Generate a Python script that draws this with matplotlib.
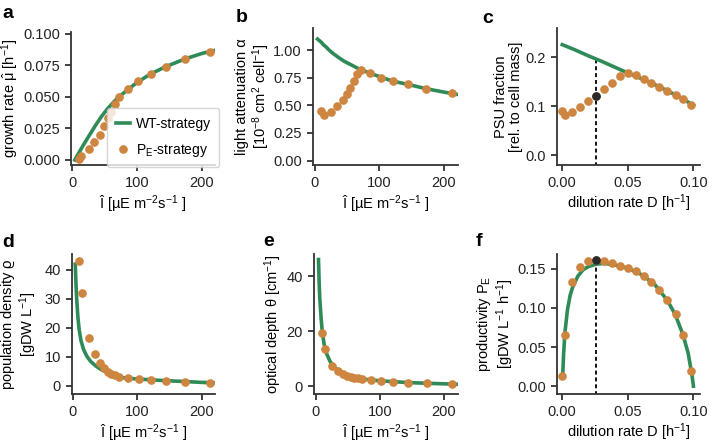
import numpy as np
import matplotlib
matplotlib.use("Agg")
import matplotlib.pyplot as plt


# -------------------------
# Style
# -------------------------
plt.rcParams["font.family"] = ["Liberation Sans", "DejaVu Sans"]
plt.rcParams["mathtext.fontset"] = "custom"
plt.rcParams["mathtext.rm"] = "Liberation Sans"
plt.rcParams["mathtext.it"] = "Liberation Sans:italic"
plt.rcParams["mathtext.bf"] = "Liberation Sans:bold"
plt.rcParams["mathtext.default"] = "regular"
plt.rcParams["font.size"] = 10.5
plt.rcParams["axes.linewidth"] = 1.3
plt.rcParams["axes.edgecolor"] = "#333333"
plt.rcParams["axes.labelpad"] = 2
plt.rcParams["xtick.major.width"] = 1.3
plt.rcParams["ytick.major.width"] = 1.3
plt.rcParams["xtick.major.size"] = 4.5
plt.rcParams["ytick.major.size"] = 4.5
plt.rcParams["xtick.color"] = "#333333"
plt.rcParams["ytick.color"] = "#333333"
plt.rcParams["xtick.labelcolor"] = "#222222"
plt.rcParams["ytick.labelcolor"] = "#222222"

GREEN = "#2e8b57"
ORANGE = "#cd853f"
DARK = "#2b2b2b"


# -------------------------
# Data: WT-strategy curves vs light intensity I
# -------------------------
I_wt = [4, 5, 6, 8, 10, 13, 17, 22, 28, 35, 45, 55, 65, 72, 86, 100, 120, 144, 173, 200, 220]
mu_wt = [0.0, 0.001, 0.002, 0.0038, 0.0055, 0.0082, 0.0118, 0.0160, 0.0210, 0.0268,
         0.0345, 0.0410, 0.0466, 0.0500, 0.0560, 0.0615, 0.0680, 0.0740, 0.0800, 0.0845, 0.0870]
alpha_wt = [1.10, 1.095, 1.09, 1.08, 1.07, 1.05, 1.03, 1.00, 0.97, 0.94, 0.90, 0.87,
            0.84, 0.82, 0.79, 0.76, 0.72, 0.69, 0.65, 0.62, 0.60]
rho_wt = [42, 36, 31, 24, 19.5, 15.5, 12.5, 10.2, 8.4, 7.0, 5.5, 4.5, 3.6, 3.0,
          2.6, 2.4, 2.1, 1.8, 1.5, 1.2, 1.05]
theta_wt = [46, 38, 32, 25, 19.5, 15.0, 11.6, 9.0, 7.0, 5.6, 4.4, 3.6, 2.9, 2.6,
            2.2, 1.9, 1.6, 1.25, 1.0, 0.8, 0.65]

# WT-strategy curves vs dilution rate D
D_wt = [0.0, 0.01, 0.02, 0.03, 0.04, 0.05, 0.06, 0.07, 0.08, 0.09, 0.10]
psu_wt = [0.226, 0.215, 0.203, 0.192, 0.180, 0.168, 0.157, 0.145, 0.132, 0.118, 0.102]

D_prod = [0.0003, 0.001, 0.002, 0.004, 0.006, 0.008, 0.012, 0.016, 0.020, 0.026, 0.032,
          0.040, 0.050, 0.060, 0.070, 0.080, 0.086, 0.092, 0.096, 0.099, 0.100]
prod_wt = [0.012, 0.040, 0.068, 0.098, 0.116, 0.127, 0.141, 0.149, 0.153, 0.156, 0.157,
           0.155, 0.151, 0.143, 0.131, 0.110, 0.092, 0.066, 0.042, 0.013, 0.0]

# -------------------------
# Data: P_E-strategy points
# -------------------------
D_pe = [0.000, 0.0023, 0.0076, 0.0137, 0.0198, 0.026, 0.032, 0.038, 0.044,
        0.050, 0.056, 0.062, 0.068, 0.074, 0.080, 0.0865, 0.092, 0.098]
psu_pe = [0.091, 0.083, 0.088, 0.099, 0.111, 0.122, 0.135, 0.148, 0.161,
          0.169, 0.163, 0.156, 0.148, 0.139, 0.132, 0.123, 0.115, 0.102]
prod_pe = [0.013, 0.065, 0.133, 0.153, 0.160, 0.161, 0.160, 0.158, 0.154,
           0.151, 0.147, 0.141, 0.133, 0.123, 0.110, 0.092, 0.065, 0.020]

# points with I inside the plotted range
I_pe = [10, 14, 25, 34, 43, 49, 54.5, 60, 66, 72, 86, 102, 121, 144, 173, 212]
mu_pe = [0.001, 0.003, 0.0086, 0.0146, 0.0196, 0.0266, 0.033, 0.038, 0.044,
         0.050, 0.056, 0.0627, 0.068, 0.074, 0.080, 0.0856]
alpha_pe = [0.45, 0.41, 0.44, 0.49, 0.55, 0.60, 0.66, 0.72, 0.78,
            0.82, 0.79, 0.75, 0.72, 0.69, 0.65, 0.61]
rho_pe = [43.1, 32.2, 16.5, 10.9, 8.0, 6.1, 4.9, 4.1, 3.6,
          3.0, 2.6, 2.4, 2.2, 1.8, 1.5, 1.1]
theta_pe = [19.3, 13.3, 7.3, 5.3, 4.4, 3.6, 3.3, 3.0, 2.8,
            2.5, 2.3, 1.9, 1.6, 1.2, 1.0, 0.7]

# optimum (max productivity)
D_opt = 0.026
psu_opt = 0.122
psu_wt_opt = 0.196
prod_opt = 0.161

I_LABEL = r"$\hat{\mathrm{I}}$ [µE m$^{-2}$s$^{-1}$ ]"
D_LABEL = r"dilution rate D [h$^{-1}$]"

W, H = 709, 448
fig = plt.figure(figsize=(W / 100, H / 100), dpi=100)


def px_axes(left, top, right, bottom):
    return fig.add_axes([left / W, 1 - bottom / H, (right - left) / W, (bottom - top) / H])


def style(ax):
    for s in ["top", "right"]:
        ax.spines[s].set_visible(False)


ms = 5.2
lw = 2.6

# a
ax = px_axes(71, 32, 215, 165)
style(ax)
ax.plot(I_wt, mu_wt, color=GREEN, lw=lw, label="WT-strategy", zorder=2)
ax.plot(I_pe, mu_pe, "o", color=ORANGE, ms=ms, label=r"P$_\mathrm{E}$-strategy", zorder=3)
ax.set_xlim(-2, 220)
ax.set_ylim(-0.004, 0.1015)
ax.set_xticks([0, 100, 200])
ax.set_yticks([0, 0.025, 0.05, 0.075, 0.1])
ax.set_yticklabels(["0.000", "0.025", "0.050", "0.075", "0.100"])
ax.set_xlabel(I_LABEL)
ax.set_ylabel(r"growth rate $\hat{\mu}$ [h$^{-1}$]", labelpad=1)
ax.legend(loc="lower right", bbox_to_anchor=(1.03, -0.015), handlelength=1.0,
          handletextpad=0.45, borderpad=0.6, labelspacing=0.8,
          borderaxespad=0, fontsize=10)

# b
ax = px_axes(313, 28, 458, 165)
style(ax)
ax.plot(I_wt, alpha_wt, color=GREEN, lw=lw, zorder=2)
ax.plot(I_pe, alpha_pe, "o", color=ORANGE, ms=ms, zorder=3)
ax.set_xlim(-3, 222)
ax.set_ylim(-0.04, 1.2)
ax.set_xticks([0, 100, 200])
ax.set_yticks([0, 0.25, 0.5, 0.75, 1.0])
ax.set_yticklabels(["0.00", "0.25", "0.50", "0.75", "1.00"])
ax.set_xlabel(I_LABEL)
ax.set_ylabel("light attenuation α\n[10$^{-8}$ cm$^2$ cell$^{-1}$]", labelpad=1,
              linespacing=1.1)

# c
ax = px_axes(557, 28, 700, 165)
style(ax)
ax.plot(D_wt, psu_wt, color=GREEN, lw=lw, zorder=2)
ax.plot(D_pe, psu_pe, "o", color=ORANGE, ms=ms, zorder=3)
ax.plot([D_opt, D_opt], [-0.05, psu_wt_opt], color="black", lw=1.3,
        ls=(0, (2.2, 1.6)), zorder=1)
ax.plot([D_opt], [psu_opt], "o", color=DARK, ms=ms, zorder=4)
ax.set_xlim(-0.004, 0.105)
ax.set_ylim(-0.02, 0.26)
ax.set_xticks([0, 0.05, 0.1])
ax.set_xticklabels(["0.00", "0.05", "0.10"])
ax.set_yticks([0, 0.1, 0.2])
ax.set_yticklabels(["0.0", "0.1", "0.2"])
ax.set_xlabel(D_LABEL)
ax.set_ylabel("PSU fraction\n[rel. to cell mass]", linespacing=1.1)

# d
ax = px_axes(72, 254, 215, 394)
style(ax)
ax.plot(I_wt, rho_wt, color=GREEN, lw=lw, zorder=2)
ax.plot(I_pe, rho_pe, "o", color=ORANGE, ms=ms, zorder=3)
ax.set_xlim(-1, 220)
ax.set_ylim(-2.8, 45.5)
ax.set_xticks([0, 100, 200])
ax.set_yticks([0, 10, 20, 30, 40])
ax.set_xlabel(I_LABEL)
ax.set_ylabel("population density $\\varrho$\n[gDW L$^{-1}$]", labelpad=4,
              linespacing=1.05)

# e
ax = px_axes(314, 254, 458, 394)
style(ax)
ax.plot(I_wt, theta_wt, color=GREEN, lw=lw, zorder=2)
ax.plot(I_pe, theta_pe, "o", color=ORANGE, ms=ms, zorder=3)
ax.set_xlim(-3, 222)
ax.set_ylim(-2.9, 48)
ax.set_xticks([0, 100, 200])
ax.set_yticks([0, 20, 40])
ax.set_xlabel(I_LABEL)
ax.set_ylabel("optical depth θ [cm$^{-1}$]")

# f
ax = px_axes(557, 254, 700, 394)
style(ax)
ax.plot(D_prod, prod_wt, color=GREEN, lw=lw, zorder=2)
ax.plot(D_pe, prod_pe, "o", color=ORANGE, ms=ms, zorder=3)
ax.plot([D_opt, D_opt], [-0.02, prod_opt], color="black", lw=1.3,
        ls=(0, (2.2, 1.6)), zorder=1)
ax.plot([D_opt], [prod_opt], "o", color=DARK, ms=ms, zorder=4)
ax.set_xlim(-0.004, 0.105)
ax.set_ylim(-0.01, 0.169)
ax.set_xticks([0, 0.05, 0.1])
ax.set_xticklabels(["0.00", "0.05", "0.10"])
ax.set_yticks([0, 0.05, 0.1, 0.15])
ax.set_yticklabels(["0.00", "0.05", "0.10", "0.15"])
ax.set_xlabel(D_LABEL)
ax.set_ylabel("productivity P$_\\mathrm{E}$\n[gDW L$^{-1}$ h$^{-1}$]", labelpad=1,
              linespacing=1.1)

# panel letters
for letter, x, y in [("a", 2, 18), ("b", 236, 22), ("c", 482, 23),
                     ("d", 2, 247), ("e", 263, 246), ("f", 476, 246)]:
    fig.text(x / W, 1 - y / H, letter, fontsize=14, fontweight="bold",
             va="baseline", ha="left")

fig.savefig("out.png", dpi=100)
